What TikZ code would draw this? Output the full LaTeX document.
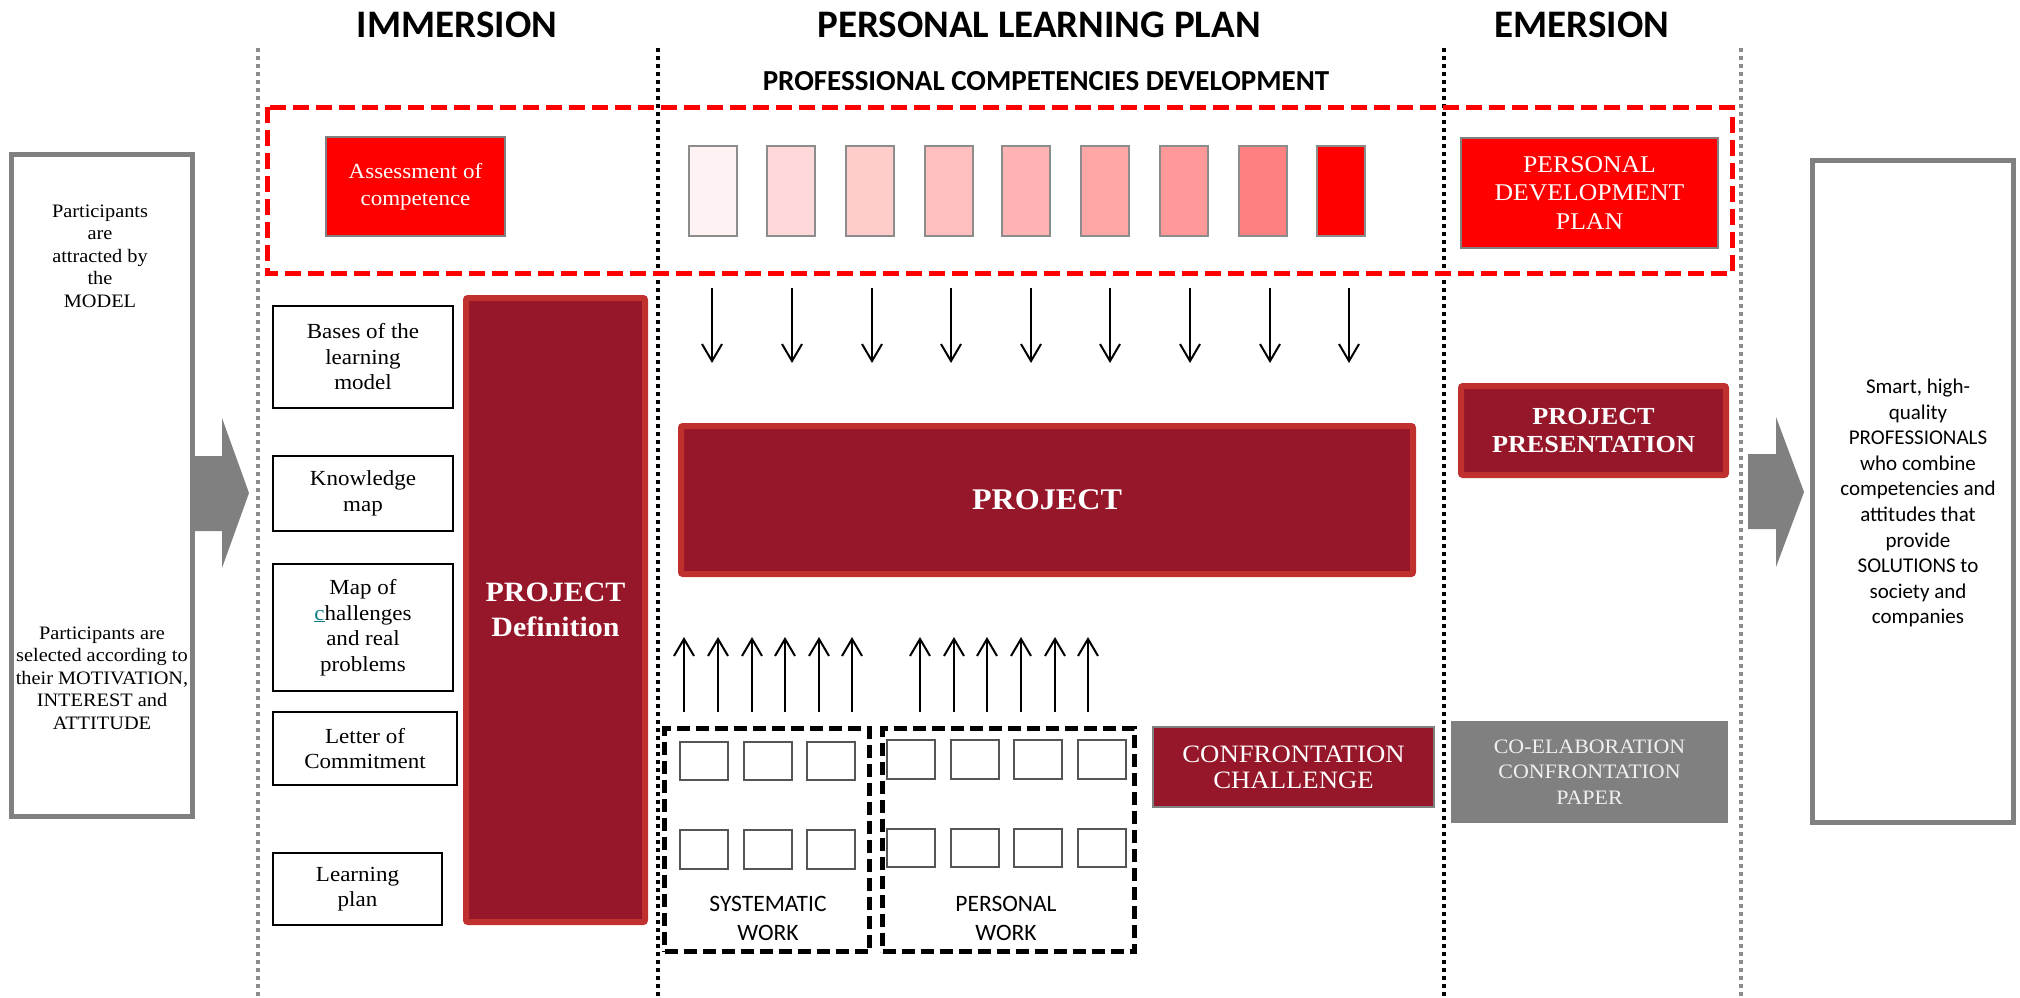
\documentclass[tikz,border=0pt]{standalone}
\usepackage{fontspec}
\setmainfont{Liberation Serif}[FakeStretch=1.07]
\newfontfamily\calfont{Carlito}
\usetikzlibrary{arrows.meta}
\definecolor{maroonf}{HTML}{961729}
\definecolor{maroonb}{HTML}{C0302F}
\definecolor{gboxc}{HTML}{808080}
\definecolor{gsepc}{HTML}{8C8C8C}
\definecolor{gradb}{HTML}{8C8C8C}
\definecolor{sqc}{HTML}{555555}
\definecolor{coelab}{HTML}{808080}
\definecolor{coelabt}{HTML}{F0F0F0}
\definecolor{linkc}{HTML}{0E7C86}
\definecolor{g1}{HTML}{FFF2F2}
\definecolor{g2}{HTML}{FFD9D9}
\definecolor{g3}{HTML}{FFCCCC}
\definecolor{g4}{HTML}{FFBFBF}
\definecolor{g5}{HTML}{FFB3B3}
\definecolor{g6}{HTML}{FFA6A6}
\definecolor{g7}{HTML}{FF9999}
\definecolor{g8}{HTML}{FF8080}
\definecolor{g9}{HTML}{FF0000}
\newcommand\fs[2]{\fontsize{#1}{#2}\selectfont}
% \bx{style}{name}{x1}{y1}{x2}{y2}{text}
\newcommand\bx[7]{\node[#1, minimum width={(#5-#3)*1pt}, minimum height={(#6-#4)*1pt}] (#2) at ({(#3+#5)/2},{(#4+#6)/2}) {#7};}
\begin{document}
\begin{tikzpicture}[x=1pt,y=-1pt,
  every node/.style={inner sep=0pt, align=center},
  titlestyle/.style={font=\calfont\bfseries\fs{39}{41}},
  subtitlestyle/.style={font=\calfont\bfseries\fs{29}{31}},
  bigbox/.style={draw=gboxc, line width=5pt, fill=white},
  lefttext/.style={font=\fs{19}{22.5}},
  righttext/.style={font=\calfont\fs{21}{25.6}},
  smallbox/.style={draw=black, line width=2pt, fill=white, font=\fs{21.5}{25.5}},
  redbox/.style={draw=gboxc, line width=2.5pt, fill=red, text=white},
  maroonbox/.style={draw=maroonb, line width=6pt, fill=maroonf, text=white, rounded corners=2pt, font=\bfseries},
  gradbox/.style={draw=gradb, line width=1.5pt},
  sqbox/.style={draw=sqc, line width=1.5pt, fill=white},
  workbox/.style={draw=black, line width=5pt, dash pattern=on 13pt off 6pt},
  worktext/.style={font=\calfont\fs{23.5}{29}},
  arr/.style={line width=2pt, -{Straight Barb[length=17pt,width=20pt]}},
  gsep/.style={draw=gsepc, line width=4pt, dash pattern=on 4pt off 4pt},
  bsep/.style={draw=black, line width=4pt, dash pattern=on 4pt off 4pt},
  reddash/.style={draw=red, line width=5pt, dash pattern=on 16pt off 7pt},
  bigarrow/.style={fill=gboxc, draw=none}
]
\useasboundingbox (0,0) rectangle (2020,997);
\fill[white] (0,0) rectangle (2020,997);

% separators
\draw[gsep] (258,48) -- (258,997);
\draw[bsep] (658,48) -- (658,997);
\draw[bsep] (1444,48) -- (1444,997);
\draw[gsep] (1741,48) -- (1741,997);

% titles
\node[titlestyle] (tImm) at (457,25) {IMMERSION};
\node[titlestyle] (tPlp) at (1039,25) {PERSONAL LEARNING PLAN};
\node[titlestyle] (tEme) at (1582,25) {EMERSION};
\node[subtitlestyle] (tPcd) at (1046,81) {PROFESSIONAL COMPETENCIES DEVELOPMENT};

% competencies dashed frame
\draw[reddash] (267,107) rectangle (1732,273);

% left and right boxes
\bx{bigbox}{leftbox}{11.5}{154.5}{192.5}{816.5}{}
\node[lefttext] (lt1) at (100,256) {Participants\\are\\attracted by\\the\\MODEL};
\node[lefttext] (lt2) at (102,678) {Participants are\\selected according to\\their MOTIVATION,\\INTEREST and\\ATTITUDE};
\bx{bigbox}{rightbox}{1812.5}{160.5}{2013.5}{822.5}{}
\node[righttext] (rt) at (1918,503) {Smart, high-\\quality\\PROFESSIONALS\\who combine\\competencies and\\attitudes that\\provide\\SOLUTIONS to\\society and\\companies};

% big gray arrows
\coordinate (la0) at (194,456);
\fill[bigarrow] (la0) -- (222,456) -- (222,418) -- (249,493) -- (222,568) -- (222,531) -- (194,531) -- cycle;
\coordinate (ra0) at (1748,454);
\fill[bigarrow] (ra0) -- (1776,454) -- (1776,417) -- (1804,492) -- (1776,567) -- (1776,529) -- (1748,529) -- cycle;

% top red boxes
\bx{redbox, font=\fs{21.5}{27}}{assess}{326}{137}{505}{236}{Assessment of\\competence}
\bx{redbox, font=\fs{24}{28.5}}{pdp}{1461}{138}{1718}{248}{PERSONAL\\DEVELOPMENT\\PLAN}

% gradient boxes
\foreach \i/\xx in {1/689,2/767,3/846,4/925,5/1002,6/1081,7/1160,8/1239,9/1317}{
  \node[gradbox, fill=g\i, minimum width=48pt, minimum height=90pt] (c\i) at (\xx+24,191) {};
}

% down arrows
\foreach \i/\xx in {1/712,2/792,3/872,4/951,5/1031,6/1110,7/1190,8/1270,9/1349}{
  \coordinate (da\i) at (\xx,288);
  \coordinate (db\i) at (\xx,363);
  \draw[arr] (da\i) -- (db\i);
}

% immersion boxes
\bx{smallbox}{bases}{273}{306}{453}{408}{Bases of the\\learning\\model}
\bx{smallbox}{know}{273}{456}{453}{531}{Knowledge\\map}
\bx{smallbox}{mapch}{273}{564}{453}{691}{Map of\\\textcolor{linkc}{\underline{c}}hallenges\\and real\\problems}
\bx{smallbox}{letter}{273}{712}{457}{785}{Letter of\\Commitment}
\bx{smallbox}{lplan}{273}{853}{442}{925}{Learning\\plan}
\bx{maroonbox, font=\bfseries\fs{28}{35}}{pdef}{466}{298}{645}{922}{PROJECT\\Definition}

% project
\bx{maroonbox, font=\bfseries\fs{30}{32}}{project}{681}{426}{1413}{574}{PROJECT}
\bx{maroonbox, font=\bfseries\fs{24.5}{28}}{ppres}{1461}{386}{1726}{475}{PROJECT\\PRESENTATION}

% up arrows
\foreach \i/\xx in {1/684,2/718,3/752,4/785,5/819,6/852,7/920,8/954,9/987,10/1021,11/1055,12/1088}{
  \coordinate (ua\i) at (\xx,712);
  \coordinate (ub\i) at (\xx,637);
  \draw[arr] (ua\i) -- (ub\i);
}

% work boxes
\bx{workbox}{syswork}{664.5}{728.5}{869.5}{951.5}{}
\bx{workbox}{perwork}{882.5}{728.5}{1134.5}{951.5}{}
\foreach \j/\xx in {1/680,2/744,3/807}{
  \bx{sqbox}{s1\j}{\xx}{742}{\xx+48}{780}{}
  \bx{sqbox}{s2\j}{\xx}{830}{\xx+48}{869}{}
}
\foreach \j/\xx in {1/887,2/951,3/1014,4/1078}{
  \bx{sqbox}{p1\j}{\xx}{740}{\xx+48}{779}{}
  \bx{sqbox}{p2\j}{\xx}{829}{\xx+48}{867}{}
}
\node[worktext] (systext) at (768,918) {SYSTEMATIC\\WORK};
\node[worktext] (pertext) at (1006,918) {PERSONAL\\WORK};

% confrontation / co-elaboration
\bx{draw=gboxc, line width=2pt, fill=maroonf, text=white, font=\fs{25}{26}}{confr}{1153}{727}{1434}{807}{CONFRONTATION\\CHALLENGE}
\bx{fill=coelab, text=coelabt, font=\fs{20.5}{25.5}}{coel}{1451}{721}{1728}{823}{CO-ELABORATION\\CONFRONTATION\\PAPER}
\end{tikzpicture}
\end{document}
